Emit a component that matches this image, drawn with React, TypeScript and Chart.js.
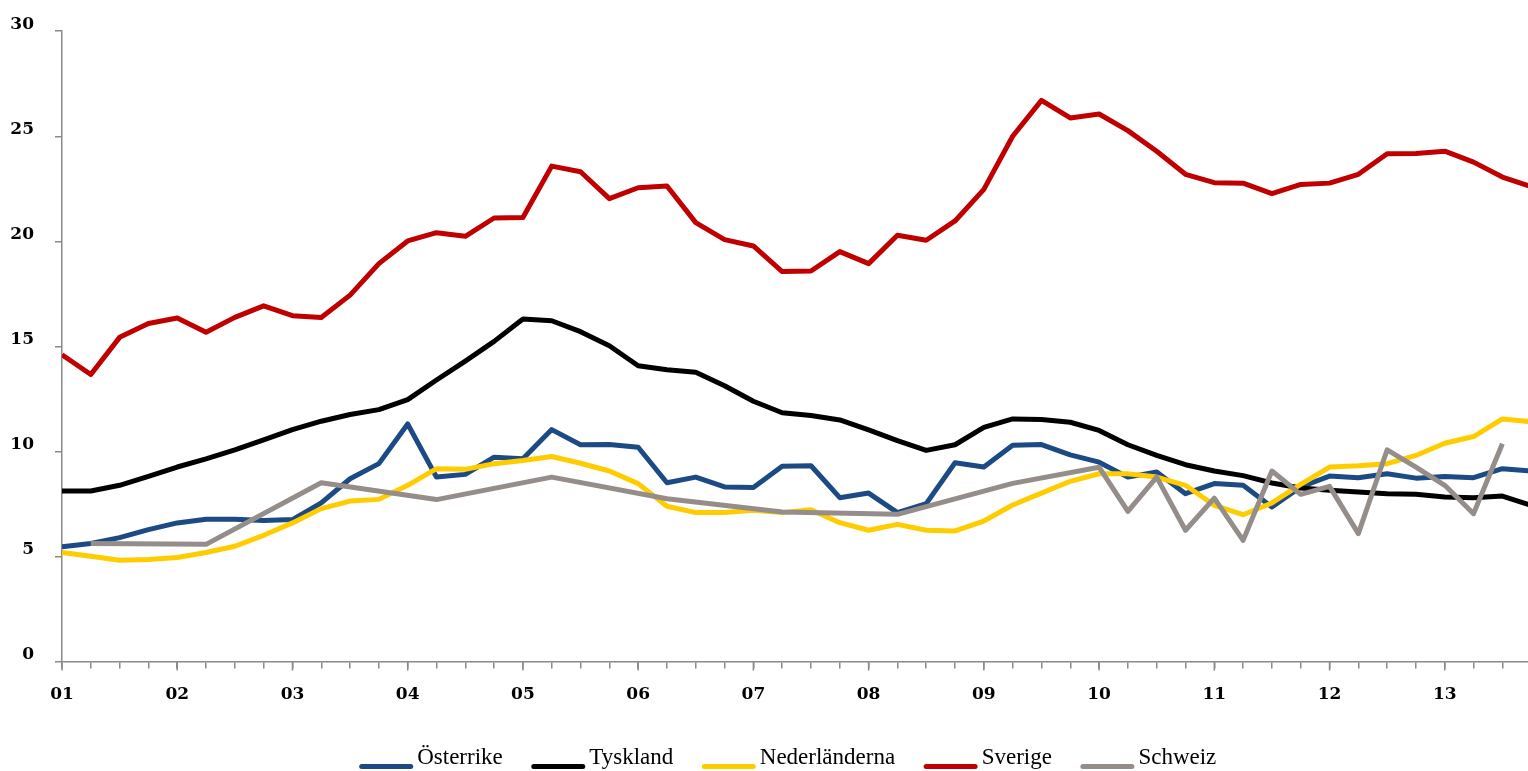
import React, { useEffect, useRef } from 'react';
import { Chart, registerables } from 'chart.js';

Chart.register(...registerables);

// Quarterly observations 2001 K1 .. 2013 K4 (index 0..51)
const yearLabels = ['01', '02', '03', '04', '05', '06', '07', '08', '09', '10', '11', '12', '13'];
const seriesNames = ['Österrike', 'Tyskland', 'Nederländerna', 'Sverige', 'Schweiz'];
const seriesColors = ['#1B4A84', '#000000', '#FFCC00', '#C00000', '#958D89'];

const osterrike = [
  5.46, 5.62, 5.9, 6.28, 6.6, 6.77, 6.77, 6.72, 6.76, 7.55,
  8.7, 9.42, 11.31, 8.78, 8.91, 9.73, 9.65, 11.04, 10.32, 10.33,
  10.2, 8.51, 8.78, 8.31, 8.28, 9.3, 9.32, 7.8, 8.02, 7.09,
  7.52, 9.46, 9.26, 10.3, 10.33, 9.84, 9.49, 8.78, 9.02, 7.99,
  8.47, 8.39, 7.36, 8.31, 8.83, 8.75, 8.94, 8.73, 8.81, 8.75,
  9.18, 9.07,
];
const tyskland = [
  8.12, 8.12, 8.39, 8.81, 9.26, 9.65, 10.08, 10.55, 11.04, 11.44,
  11.76, 11.99, 12.47, 13.4, 14.3, 15.24, 16.3, 16.22, 15.7, 15.03,
  14.08, 13.89, 13.77, 13.13, 12.39, 11.84, 11.71, 11.5, 11.03, 10.52,
  10.05, 10.32, 11.15, 11.55, 11.52, 11.39, 11.0, 10.32, 9.81, 9.37,
  9.07, 8.85, 8.5, 8.26, 8.15, 8.07, 7.99, 7.96, 7.83, 7.8,
  7.88, 7.44,
];
const nederlanderna = [
  5.19, 5.01, 4.82, 4.86, 4.95, 5.19, 5.49, 6.01, 6.6, 7.28,
  7.64, 7.72, 8.39, 9.18, 9.15, 9.42, 9.57, 9.76, 9.44, 9.07,
  8.47, 7.39, 7.09, 7.09, 7.2, 7.09, 7.23, 6.61, 6.25, 6.53,
  6.25, 6.22, 6.69, 7.45, 8.02, 8.58, 8.94, 8.94, 8.78, 8.39,
  7.44, 6.99, 7.55, 8.43, 9.26, 9.32, 9.42, 9.81, 10.39, 10.71,
  11.55, 11.41,
];
const sverige = [
  14.6, 13.66, 15.43, 16.09, 16.35, 15.67, 16.38, 16.93, 16.46, 16.38,
  17.44, 18.94, 20.02, 20.41, 20.24, 21.11, 21.13, 23.58, 23.31, 22.03,
  22.55, 22.63, 20.89, 20.08, 19.78, 18.56, 18.59, 19.51, 18.94, 20.29,
  20.05, 20.97, 22.47, 25.0, 26.71, 25.87, 26.06, 25.27, 24.29, 23.19,
  22.79, 22.77, 22.27, 22.71, 22.77, 23.19, 24.17, 24.18, 24.29, 23.77,
  23.06, 22.6,
];
const schweiz = [
  null, 5.62, null, null, null, 5.58, null, null, null, 8.51,
  null, null, null, 7.71, null, null, null, 8.78, null, null,
  null, 7.75, null, null, null, 7.12, null, null, null, 7.01,
  null, null, null, 8.48, null, null, 9.25, 7.15, 8.78, 6.25,
  7.78, 5.77, 9.07, 7.96, 8.34, 6.09, 10.08, 9.25, 8.39, 7.04,
  10.37, null,
];

const allSeries = [osterrike, tyskland, nederlanderna, sverige, schweiz];

const AXIS_GREY = '#8A8A8A';
const NUM_FONT = { family: '"DejaVu Serif", serif', size: 17, weight: 'bold' as const };
const LEGEND_FONT = { family: '"Liberation Serif", serif', size: 23 };

const legendLinesPlugin = {
  id: 'legendLines',
  afterDraw(chart: any) {
    const legend = chart.legend;
    if (!legend || !legend.legendHitBoxes) return;
    const ctx = chart.ctx;
    const items = legend.legendItems || [];
    ctx.save();
    items.forEach((item: any, i: number) => {
      const hb = legend.legendHitBoxes[i];
      if (!hb) return;
      const y = hb.top + hb.height / 2 + 9;
      ctx.strokeStyle = seriesColors[item.datasetIndex];
      ctx.lineWidth = 5;
      ctx.lineCap = 'round';
      ctx.beginPath();
      ctx.moveTo(hb.left + 2, y);
      ctx.lineTo(hb.left + 51, y);
      ctx.stroke();
    });
    ctx.restore();
  },
};

const yearTicksPlugin = {
  id: 'yearTicks',
  afterDraw(chart: any) {
    const xs = chart.scales.x;
    const ctx = chart.ctx;
    const bottom = chart.chartArea.bottom;
    ctx.save();
    ctx.strokeStyle = AXIS_GREY;
    ctx.lineWidth = 1.5;
    yearLabels.forEach((_, k) => {
      const px = xs.getPixelForValue(k * 4);
      ctx.beginPath();
      ctx.moveTo(px, bottom);
      ctx.lineTo(px, bottom + 9);
      ctx.stroke();
    });
    ctx.restore();
  },
};

export default function App() {
  const ref = useRef<HTMLCanvasElement>(null);

  useEffect(() => {
    if (!ref.current) return;
    const datasets = seriesNames.map((name, s) => ({
      label: name,
      data: allSeries[s].map((v, i) => ({ x: i, y: v })),
      borderColor: seriesColors[s],
      backgroundColor: seriesColors[s],
      borderWidth: 5,
      pointRadius: 0,
      pointHoverRadius: 0,
      tension: 0,
      spanGaps: true,
      borderJoinStyle: 'round' as const,
      order: seriesNames.length - s,
    }));

    const chart = new Chart(ref.current, {
      type: 'line',
      data: { datasets },
      plugins: [legendLinesPlugin, yearTicksPlugin],
      options: {
        animation: false,
        responsive: true,
        maintainAspectRatio: false,
        layout: { padding: { left: 0, top: 30, right: 0, bottom: 0 } },
        plugins: {
          tooltip: { enabled: false },
          legend: {
            position: 'bottom',
            labels: {
              font: LEGEND_FONT,
              color: '#000',
              boxWidth: 46,
              boxHeight: 5,
              padding: 29,
              generateLabels: (c: any) =>
                c.data.datasets.map((d: any, i: number) => ({
                  text: d.label,
                  fillStyle: 'rgba(0,0,0,0)',
                  strokeStyle: 'rgba(0,0,0,0)',
                  lineWidth: 0,
                  hidden: false,
                  datasetIndex: i,
                  fontColor: '#000',
                })),
            },
          },
        },
        scales: {
          x: {
            type: 'linear',
            min: 0,
            max: 52.46,
            afterFit: (scale: any) => {
              scale.height = 55.4;
            },
            ticks: {
              stepSize: 1,
              autoSkip: false,
              maxTicksLimit: 1000,
              includeBounds: false,
              maxRotation: 0,
              minRotation: 0,
              padding: 16,
              color: '#000',
              font: NUM_FONT,
              callback: (v: any) => {
                const n = Number(v);
                return n % 4 === 0 ? yearLabels[n / 4] ?? '' : '';
              },
            },
            grid: { drawOnChartArea: false, tickLength: 7, color: AXIS_GREY, lineWidth: 1.5 },
            border: { color: AXIS_GREY, width: 1.5 },
          },
          y: {
            min: 0,
            max: 30,
            afterFit: (scale: any) => {
              scale.width = 62;
            },
            ticks: {
              stepSize: 5,
              padding: 21,
              labelOffset: -7,
              color: '#000',
              font: NUM_FONT,
            },
            grid: { drawOnChartArea: false, tickLength: 7, color: AXIS_GREY, lineWidth: 1.5 },
            border: { color: AXIS_GREY, width: 1.5 },
          },
        },
      },
    });
    return () => chart.destroy();
  }, []);

  return (
    <div style={{ position: 'fixed', left: 0, top: 0, width: 1528, height: 771, overflow: 'hidden', background: '#fff' }}>
      <div style={{ position: 'relative', width: 1576, height: 779 }}>
        <canvas ref={ref} />
      </div>
    </div>
  );
}
